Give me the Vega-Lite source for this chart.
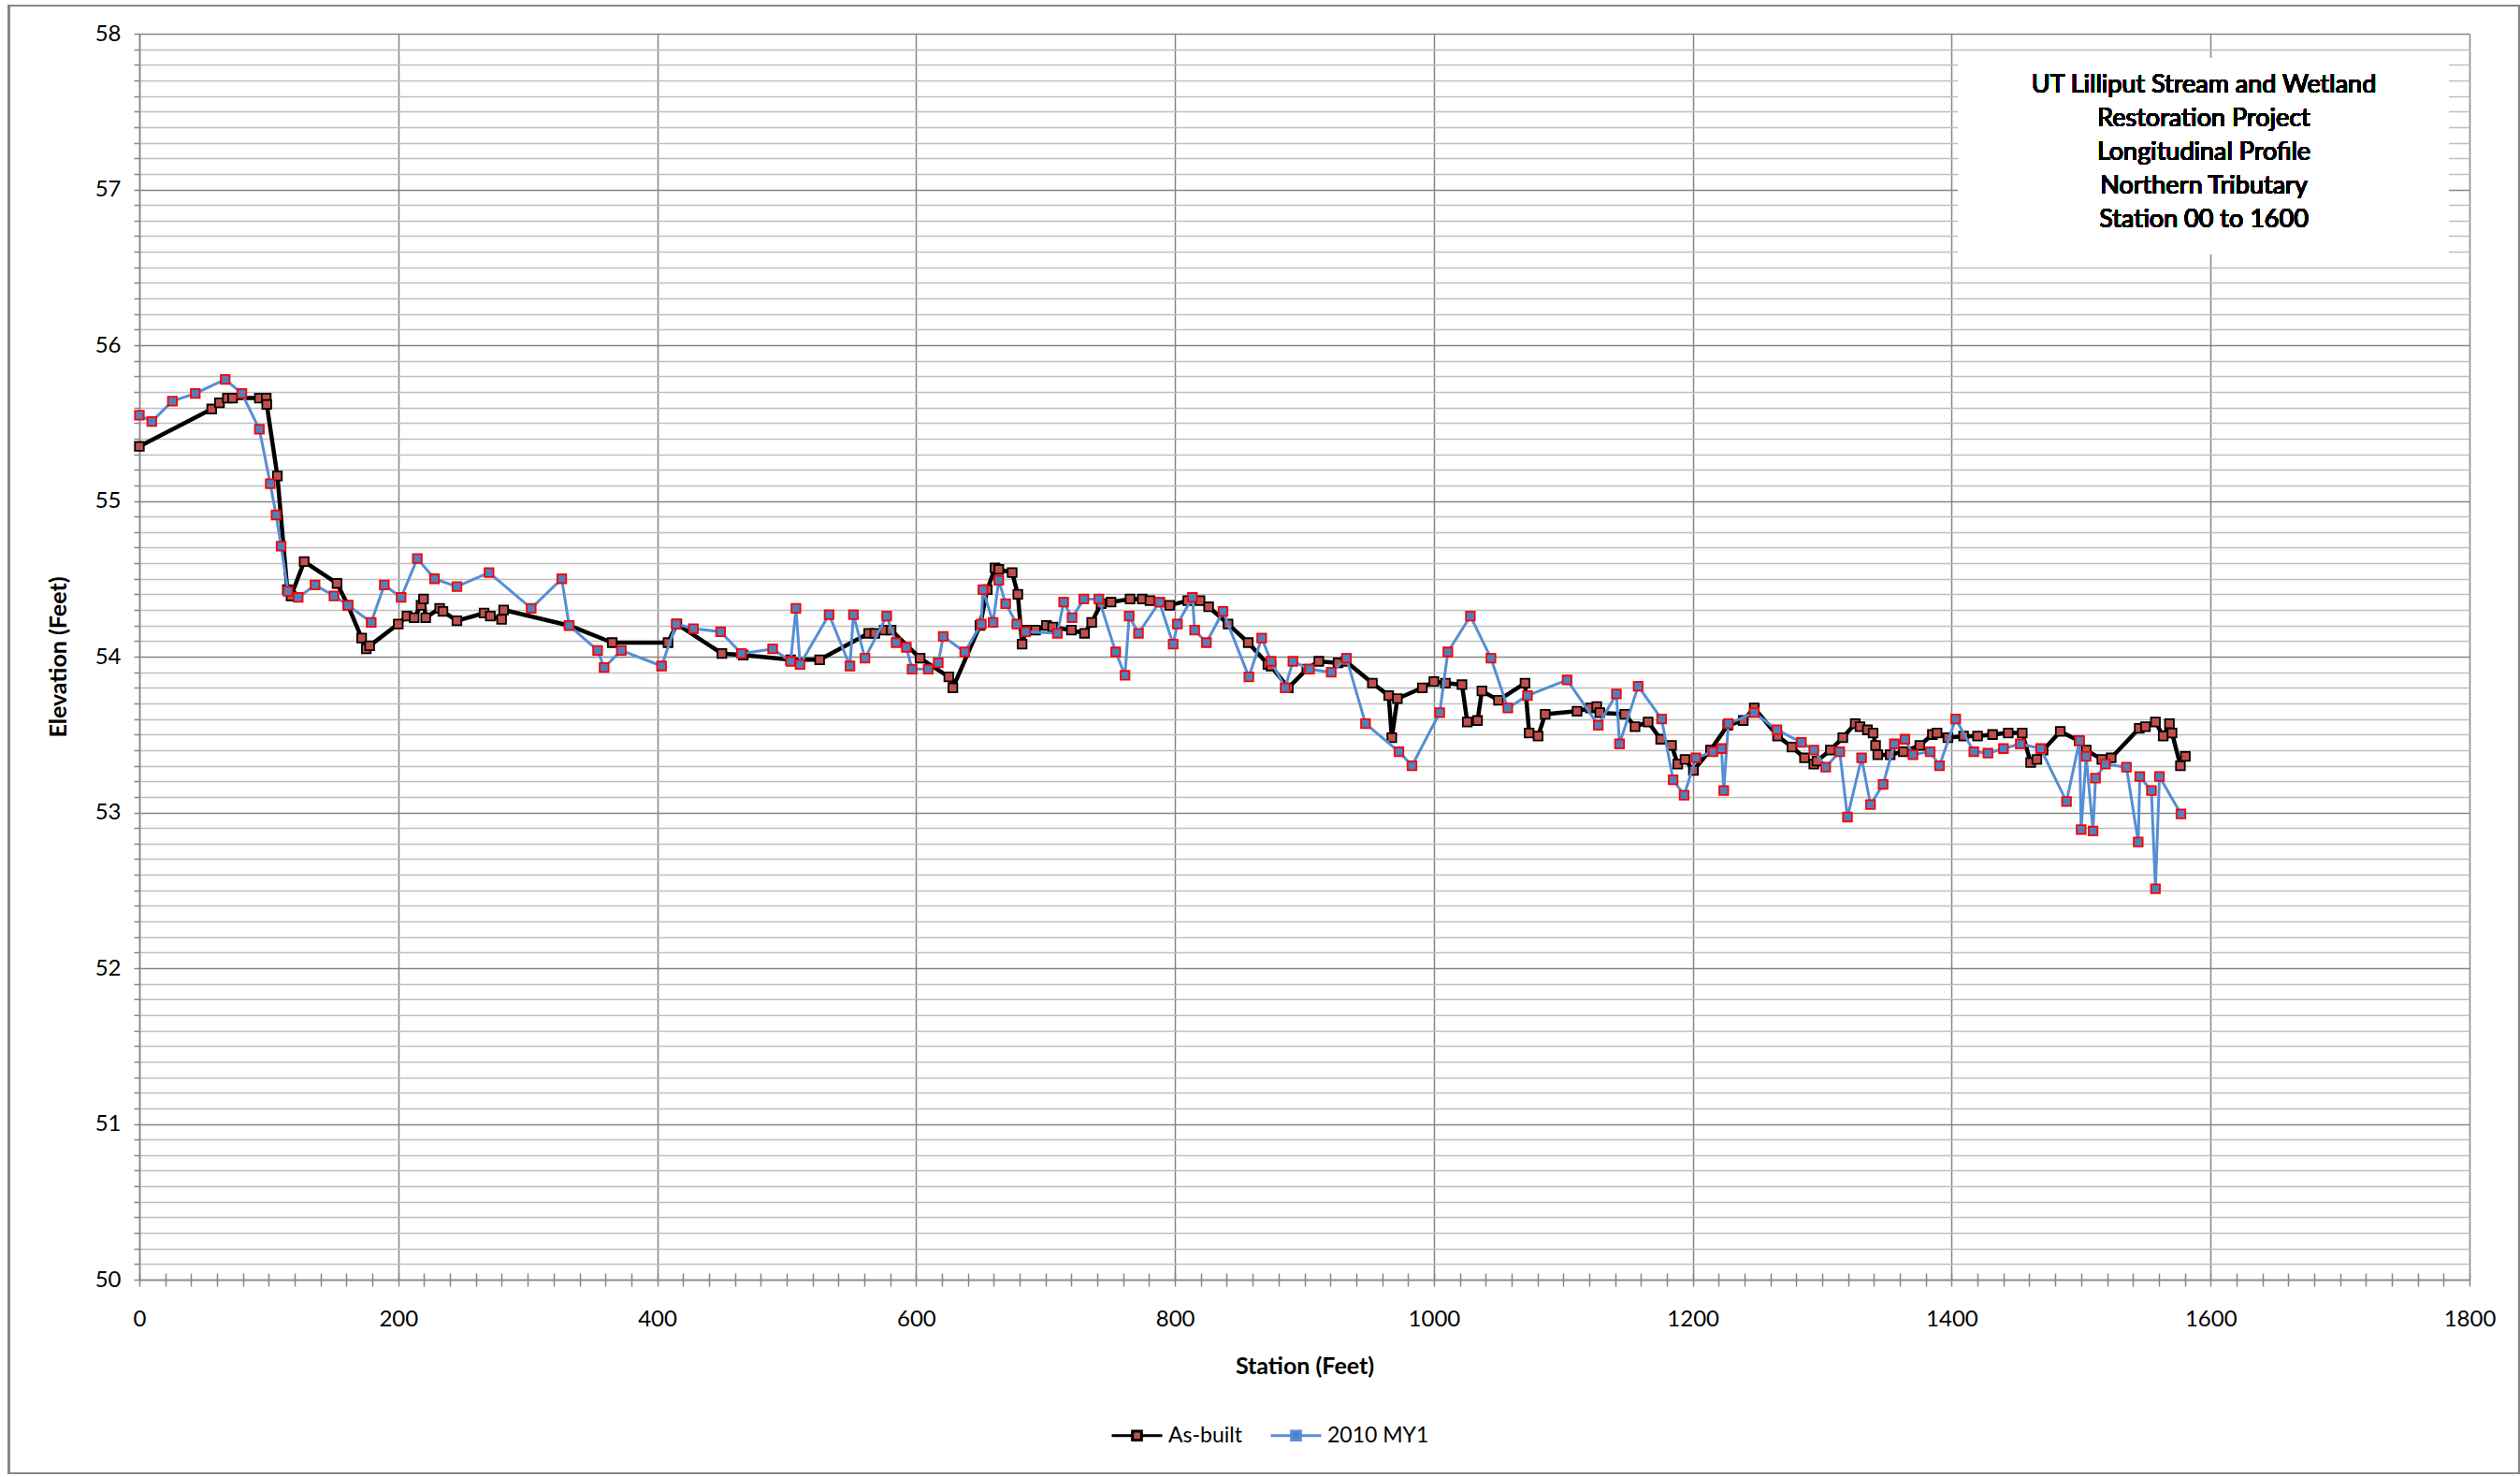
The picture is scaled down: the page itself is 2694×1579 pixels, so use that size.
{
  "$schema": "https://vega.github.io/schema/vega-lite/v6.json",
  "width": 2491,
  "height": 1332,
  "autosize": {"type": "none"},
  "padding": {"left": 149, "top": 36, "right": 54, "bottom": 211},
  "background": "#ffffff",
  "config": {"view": {"stroke": null}, "font": "Lato"},
  "data": {"values": [
    {"station": 0, "elevation": 55.35, "series": "As-built"},
    {"station": 55.9, "elevation": 55.59, "series": "As-built"},
    {"station": 61.9, "elevation": 55.63, "series": "As-built"},
    {"station": 68, "elevation": 55.66, "series": "As-built"},
    {"station": 72, "elevation": 55.66, "series": "As-built"},
    {"station": 92.7, "elevation": 55.66, "series": "As-built"},
    {"station": 98, "elevation": 55.66, "series": "As-built"},
    {"station": 98.4, "elevation": 55.62, "series": "As-built"},
    {"station": 106.6, "elevation": 55.16, "series": "As-built"},
    {"station": 114.3, "elevation": 54.43, "series": "As-built"},
    {"station": 117.2, "elevation": 54.39, "series": "As-built"},
    {"station": 127.3, "elevation": 54.61, "series": "As-built"},
    {"station": 152.7, "elevation": 54.47, "series": "As-built"},
    {"station": 161.1, "elevation": 54.33, "series": "As-built"},
    {"station": 171.7, "elevation": 54.12, "series": "As-built"},
    {"station": 175.3, "elevation": 54.05, "series": "As-built"},
    {"station": 177.9, "elevation": 54.07, "series": "As-built"},
    {"station": 200, "elevation": 54.21, "series": "As-built"},
    {"station": 206.7, "elevation": 54.26, "series": "As-built"},
    {"station": 212.3, "elevation": 54.25, "series": "As-built"},
    {"station": 217.6, "elevation": 54.33, "series": "As-built"},
    {"station": 219.5, "elevation": 54.37, "series": "As-built"},
    {"station": 221.2, "elevation": 54.25, "series": "As-built"},
    {"station": 232, "elevation": 54.31, "series": "As-built"},
    {"station": 234.5, "elevation": 54.29, "series": "As-built"},
    {"station": 245.3, "elevation": 54.23, "series": "As-built"},
    {"station": 266.3, "elevation": 54.28, "series": "As-built"},
    {"station": 271.1, "elevation": 54.26, "series": "As-built"},
    {"station": 279.8, "elevation": 54.24, "series": "As-built"},
    {"station": 281.4, "elevation": 54.3, "series": "As-built"},
    {"station": 332, "elevation": 54.2, "series": "As-built"},
    {"station": 365.3, "elevation": 54.09, "series": "As-built"},
    {"station": 408.4, "elevation": 54.09, "series": "As-built"},
    {"station": 415.2, "elevation": 54.21, "series": "As-built"},
    {"station": 450, "elevation": 54.02, "series": "As-built"},
    {"station": 466.5, "elevation": 54.01, "series": "As-built"},
    {"station": 503.1, "elevation": 53.98, "series": "As-built"},
    {"station": 525.5, "elevation": 53.98, "series": "As-built"},
    {"station": 563.4, "elevation": 54.15, "series": "As-built"},
    {"station": 568.2, "elevation": 54.15, "series": "As-built"},
    {"station": 575.4, "elevation": 54.17, "series": "As-built"},
    {"station": 580.7, "elevation": 54.17, "series": "As-built"},
    {"station": 603.1, "elevation": 53.99, "series": "As-built"},
    {"station": 625.3, "elevation": 53.87, "series": "As-built"},
    {"station": 628.4, "elevation": 53.8, "series": "As-built"},
    {"station": 649.4, "elevation": 54.2, "series": "As-built"},
    {"station": 655, "elevation": 54.43, "series": "As-built"},
    {"station": 661, "elevation": 54.57, "series": "As-built"},
    {"station": 663.9, "elevation": 54.56, "series": "As-built"},
    {"station": 674.2, "elevation": 54.54, "series": "As-built"},
    {"station": 678.6, "elevation": 54.4, "series": "As-built"},
    {"station": 681.9, "elevation": 54.08, "series": "As-built"},
    {"station": 685, "elevation": 54.17, "series": "As-built"},
    {"station": 692.3, "elevation": 54.17, "series": "As-built"},
    {"station": 700.7, "elevation": 54.2, "series": "As-built"},
    {"station": 705.5, "elevation": 54.19, "series": "As-built"},
    {"station": 720, "elevation": 54.17, "series": "As-built"},
    {"station": 730.1, "elevation": 54.15, "series": "As-built"},
    {"station": 735.7, "elevation": 54.22, "series": "As-built"},
    {"station": 742.9, "elevation": 54.34, "series": "As-built"},
    {"station": 750.6, "elevation": 54.35, "series": "As-built"},
    {"station": 765.3, "elevation": 54.37, "series": "As-built"},
    {"station": 774.7, "elevation": 54.37, "series": "As-built"},
    {"station": 780.7, "elevation": 54.36, "series": "As-built"},
    {"station": 788.2, "elevation": 54.35, "series": "As-built"},
    {"station": 795.9, "elevation": 54.33, "series": "As-built"},
    {"station": 809.9, "elevation": 54.36, "series": "As-built"},
    {"station": 819.3, "elevation": 54.36, "series": "As-built"},
    {"station": 826, "elevation": 54.32, "series": "As-built"},
    {"station": 841, "elevation": 54.21, "series": "As-built"},
    {"station": 856.6, "elevation": 54.09, "series": "As-built"},
    {"station": 871.8, "elevation": 53.95, "series": "As-built"},
    {"station": 874.2, "elevation": 53.94, "series": "As-built"},
    {"station": 887.5, "elevation": 53.8, "series": "As-built"},
    {"station": 901.9, "elevation": 53.92, "series": "As-built"},
    {"station": 911.1, "elevation": 53.97, "series": "As-built"},
    {"station": 926, "elevation": 53.96, "series": "As-built"},
    {"station": 932, "elevation": 53.97, "series": "As-built"},
    {"station": 952.5, "elevation": 53.83, "series": "As-built"},
    {"station": 965.1, "elevation": 53.75, "series": "As-built"},
    {"station": 967.5, "elevation": 53.48, "series": "As-built"},
    {"station": 971.8, "elevation": 53.73, "series": "As-built"},
    {"station": 991.1, "elevation": 53.8, "series": "As-built"},
    {"station": 1000, "elevation": 53.84, "series": "As-built"},
    {"station": 1008.9, "elevation": 53.83, "series": "As-built"},
    {"station": 1021.7, "elevation": 53.82, "series": "As-built"},
    {"station": 1025.8, "elevation": 53.58, "series": "As-built"},
    {"station": 1033.7, "elevation": 53.59, "series": "As-built"},
    {"station": 1037.1, "elevation": 53.78, "series": "As-built"},
    {"station": 1049.9, "elevation": 53.72, "series": "As-built"},
    {"station": 1070.4, "elevation": 53.83, "series": "As-built"},
    {"station": 1073.6, "elevation": 53.51, "series": "As-built"},
    {"station": 1080.5, "elevation": 53.49, "series": "As-built"},
    {"station": 1086, "elevation": 53.63, "series": "As-built"},
    {"station": 1110.6, "elevation": 53.65, "series": "As-built"},
    {"station": 1120.9, "elevation": 53.67, "series": "As-built"},
    {"station": 1125.8, "elevation": 53.68, "series": "As-built"},
    {"station": 1128.2, "elevation": 53.64, "series": "As-built"},
    {"station": 1147.5, "elevation": 53.63, "series": "As-built"},
    {"station": 1155.4, "elevation": 53.55, "series": "As-built"},
    {"station": 1165.5, "elevation": 53.58, "series": "As-built"},
    {"station": 1175.2, "elevation": 53.47, "series": "As-built"},
    {"station": 1183.6, "elevation": 53.43, "series": "As-built"},
    {"station": 1188.4, "elevation": 53.31, "series": "As-built"},
    {"station": 1194, "elevation": 53.34, "series": "As-built"},
    {"station": 1200.5, "elevation": 53.27, "series": "As-built"},
    {"station": 1213.7, "elevation": 53.4, "series": "As-built"},
    {"station": 1227, "elevation": 53.56, "series": "As-built"},
    {"station": 1239, "elevation": 53.59, "series": "As-built"},
    {"station": 1247.5, "elevation": 53.67, "series": "As-built"},
    {"station": 1265.5, "elevation": 53.49, "series": "As-built"},
    {"station": 1276.6, "elevation": 53.42, "series": "As-built"},
    {"station": 1286.3, "elevation": 53.35, "series": "As-built"},
    {"station": 1293.5, "elevation": 53.31, "series": "As-built"},
    {"station": 1295.9, "elevation": 53.33, "series": "As-built"},
    {"station": 1306.3, "elevation": 53.4, "series": "As-built"},
    {"station": 1315.9, "elevation": 53.48, "series": "As-built"},
    {"station": 1325.5, "elevation": 53.57, "series": "As-built"},
    {"station": 1329.2, "elevation": 53.55, "series": "As-built"},
    {"station": 1334.9, "elevation": 53.53, "series": "As-built"},
    {"station": 1339.3, "elevation": 53.51, "series": "As-built"},
    {"station": 1341.2, "elevation": 53.43, "series": "As-built"},
    {"station": 1342.9, "elevation": 53.37, "series": "As-built"},
    {"station": 1352.5, "elevation": 53.37, "series": "As-built"},
    {"station": 1362.7, "elevation": 53.39, "series": "As-built"},
    {"station": 1375.4, "elevation": 53.43, "series": "As-built"},
    {"station": 1385.1, "elevation": 53.5, "series": "As-built"},
    {"station": 1388.7, "elevation": 53.51, "series": "As-built"},
    {"station": 1397.1, "elevation": 53.48, "series": "As-built"},
    {"station": 1409.2, "elevation": 53.49, "series": "As-built"},
    {"station": 1420, "elevation": 53.49, "series": "As-built"},
    {"station": 1431.6, "elevation": 53.5, "series": "As-built"},
    {"station": 1443.7, "elevation": 53.51, "series": "As-built"},
    {"station": 1454.5, "elevation": 53.51, "series": "As-built"},
    {"station": 1461, "elevation": 53.32, "series": "As-built"},
    {"station": 1465.8, "elevation": 53.34, "series": "As-built"},
    {"station": 1470.6, "elevation": 53.4, "series": "As-built"},
    {"station": 1483.9, "elevation": 53.52, "series": "As-built"},
    {"station": 1498.4, "elevation": 53.46, "series": "As-built"},
    {"station": 1503.9, "elevation": 53.4, "series": "As-built"},
    {"station": 1516, "elevation": 53.34, "series": "As-built"},
    {"station": 1523.2, "elevation": 53.35, "series": "As-built"},
    {"station": 1544.9, "elevation": 53.54, "series": "As-built"},
    {"station": 1549.7, "elevation": 53.55, "series": "As-built"},
    {"station": 1557.4, "elevation": 53.58, "series": "As-built"},
    {"station": 1563.4, "elevation": 53.49, "series": "As-built"},
    {"station": 1568.2, "elevation": 53.57, "series": "As-built"},
    {"station": 1570.2, "elevation": 53.51, "series": "As-built"},
    {"station": 1576.7, "elevation": 53.3, "series": "As-built"},
    {"station": 1580.5, "elevation": 53.36, "series": "As-built"},
    {"station": 0, "elevation": 55.55, "series": "2010 MY1"},
    {"station": 9.6, "elevation": 55.51, "series": "2010 MY1"},
    {"station": 25.5, "elevation": 55.64, "series": "2010 MY1"},
    {"station": 43.2, "elevation": 55.69, "series": "2010 MY1"},
    {"station": 66.3, "elevation": 55.78, "series": "2010 MY1"},
    {"station": 79.2, "elevation": 55.69, "series": "2010 MY1"},
    {"station": 92.7, "elevation": 55.46, "series": "2010 MY1"},
    {"station": 101.1, "elevation": 55.11, "series": "2010 MY1"},
    {"station": 105.6, "elevation": 54.91, "series": "2010 MY1"},
    {"station": 109.5, "elevation": 54.71, "series": "2010 MY1"},
    {"station": 114.8, "elevation": 54.42, "series": "2010 MY1"},
    {"station": 122.7, "elevation": 54.38, "series": "2010 MY1"},
    {"station": 135.7, "elevation": 54.46, "series": "2010 MY1"},
    {"station": 150.3, "elevation": 54.39, "series": "2010 MY1"},
    {"station": 161.1, "elevation": 54.33, "series": "2010 MY1"},
    {"station": 179.1, "elevation": 54.22, "series": "2010 MY1"},
    {"station": 189.2, "elevation": 54.46, "series": "2010 MY1"},
    {"station": 202.2, "elevation": 54.38, "series": "2010 MY1"},
    {"station": 214.7, "elevation": 54.63, "series": "2010 MY1"},
    {"station": 228, "elevation": 54.5, "series": "2010 MY1"},
    {"station": 245.3, "elevation": 54.45, "series": "2010 MY1"},
    {"station": 270.1, "elevation": 54.54, "series": "2010 MY1"},
    {"station": 302.7, "elevation": 54.31, "series": "2010 MY1"},
    {"station": 326.3, "elevation": 54.5, "series": "2010 MY1"},
    {"station": 332, "elevation": 54.2, "series": "2010 MY1"},
    {"station": 354, "elevation": 54.04, "series": "2010 MY1"},
    {"station": 359, "elevation": 53.93, "series": "2010 MY1"},
    {"station": 372.3, "elevation": 54.04, "series": "2010 MY1"},
    {"station": 403.4, "elevation": 53.94, "series": "2010 MY1"},
    {"station": 414.7, "elevation": 54.21, "series": "2010 MY1"},
    {"station": 428, "elevation": 54.18, "series": "2010 MY1"},
    {"station": 449, "elevation": 54.16, "series": "2010 MY1"},
    {"station": 465.1, "elevation": 54.02, "series": "2010 MY1"},
    {"station": 489.2, "elevation": 54.05, "series": "2010 MY1"},
    {"station": 503.1, "elevation": 53.97, "series": "2010 MY1"},
    {"station": 507.2, "elevation": 54.31, "series": "2010 MY1"},
    {"station": 510.4, "elevation": 53.95, "series": "2010 MY1"},
    {"station": 532.8, "elevation": 54.27, "series": "2010 MY1"},
    {"station": 548.9, "elevation": 53.94, "series": "2010 MY1"},
    {"station": 551.6, "elevation": 54.27, "series": "2010 MY1"},
    {"station": 560.5, "elevation": 53.99, "series": "2010 MY1"},
    {"station": 577.3, "elevation": 54.26, "series": "2010 MY1"},
    {"station": 584.6, "elevation": 54.09, "series": "2010 MY1"},
    {"station": 592.5, "elevation": 54.06, "series": "2010 MY1"},
    {"station": 596.9, "elevation": 53.92, "series": "2010 MY1"},
    {"station": 609.4, "elevation": 53.92, "series": "2010 MY1"},
    {"station": 617.1, "elevation": 53.96, "series": "2010 MY1"},
    {"station": 621, "elevation": 54.13, "series": "2010 MY1"},
    {"station": 637.6, "elevation": 54.03, "series": "2010 MY1"},
    {"station": 650.4, "elevation": 54.21, "series": "2010 MY1"},
    {"station": 651.6, "elevation": 54.43, "series": "2010 MY1"},
    {"station": 659.5, "elevation": 54.22, "series": "2010 MY1"},
    {"station": 663.9, "elevation": 54.49, "series": "2010 MY1"},
    {"station": 669.2, "elevation": 54.34, "series": "2010 MY1"},
    {"station": 677.8, "elevation": 54.21, "series": "2010 MY1"},
    {"station": 684.6, "elevation": 54.16, "series": "2010 MY1"},
    {"station": 709.2, "elevation": 54.15, "series": "2010 MY1"},
    {"station": 714, "elevation": 54.35, "series": "2010 MY1"},
    {"station": 720.5, "elevation": 54.25, "series": "2010 MY1"},
    {"station": 729.6, "elevation": 54.37, "series": "2010 MY1"},
    {"station": 741.2, "elevation": 54.37, "series": "2010 MY1"},
    {"station": 754.2, "elevation": 54.03, "series": "2010 MY1"},
    {"station": 761.4, "elevation": 53.88, "series": "2010 MY1"},
    {"station": 764.6, "elevation": 54.26, "series": "2010 MY1"},
    {"station": 771.8, "elevation": 54.15, "series": "2010 MY1"},
    {"station": 788, "elevation": 54.35, "series": "2010 MY1"},
    {"station": 798.6, "elevation": 54.08, "series": "2010 MY1"},
    {"station": 801.9, "elevation": 54.21, "series": "2010 MY1"},
    {"station": 813.5, "elevation": 54.38, "series": "2010 MY1"},
    {"station": 815.2, "elevation": 54.17, "series": "2010 MY1"},
    {"station": 824.3, "elevation": 54.09, "series": "2010 MY1"},
    {"station": 837.1, "elevation": 54.29, "series": "2010 MY1"},
    {"station": 857.1, "elevation": 53.87, "series": "2010 MY1"},
    {"station": 867, "elevation": 54.12, "series": "2010 MY1"},
    {"station": 874.2, "elevation": 53.97, "series": "2010 MY1"},
    {"station": 885.1, "elevation": 53.8, "series": "2010 MY1"},
    {"station": 891.1, "elevation": 53.97, "series": "2010 MY1"},
    {"station": 903.9, "elevation": 53.92, "series": "2010 MY1"},
    {"station": 920.7, "elevation": 53.9, "series": "2010 MY1"},
    {"station": 932.5, "elevation": 53.99, "series": "2010 MY1"},
    {"station": 947.2, "elevation": 53.57, "series": "2010 MY1"},
    {"station": 973, "elevation": 53.39, "series": "2010 MY1"},
    {"station": 983.1, "elevation": 53.3, "series": "2010 MY1"},
    {"station": 1004.5, "elevation": 53.64, "series": "2010 MY1"},
    {"station": 1010.8, "elevation": 54.03, "series": "2010 MY1"},
    {"station": 1028.2, "elevation": 54.26, "series": "2010 MY1"},
    {"station": 1044.1, "elevation": 53.99, "series": "2010 MY1"},
    {"station": 1057.1, "elevation": 53.67, "series": "2010 MY1"},
    {"station": 1072.3, "elevation": 53.75, "series": "2010 MY1"},
    {"station": 1102.9, "elevation": 53.85, "series": "2010 MY1"},
    {"station": 1127, "elevation": 53.56, "series": "2010 MY1"},
    {"station": 1141, "elevation": 53.76, "series": "2010 MY1"},
    {"station": 1143.4, "elevation": 53.44, "series": "2010 MY1"},
    {"station": 1157.8, "elevation": 53.81, "series": "2010 MY1"},
    {"station": 1175.9, "elevation": 53.6, "series": "2010 MY1"},
    {"station": 1184.8, "elevation": 53.21, "series": "2010 MY1"},
    {"station": 1193.3, "elevation": 53.11, "series": "2010 MY1"},
    {"station": 1202.4, "elevation": 53.35, "series": "2010 MY1"},
    {"station": 1215.7, "elevation": 53.39, "series": "2010 MY1"},
    {"station": 1222.2, "elevation": 53.41, "series": "2010 MY1"},
    {"station": 1223.9, "elevation": 53.14, "series": "2010 MY1"},
    {"station": 1227.5, "elevation": 53.57, "series": "2010 MY1"},
    {"station": 1247.5, "elevation": 53.64, "series": "2010 MY1"},
    {"station": 1265, "elevation": 53.53, "series": "2010 MY1"},
    {"station": 1283.9, "elevation": 53.45, "series": "2010 MY1"},
    {"station": 1293.5, "elevation": 53.4, "series": "2010 MY1"},
    {"station": 1302.7, "elevation": 53.29, "series": "2010 MY1"},
    {"station": 1313.5, "elevation": 53.39, "series": "2010 MY1"},
    {"station": 1319.5, "elevation": 52.97, "series": "2010 MY1"},
    {"station": 1330.4, "elevation": 53.35, "series": "2010 MY1"},
    {"station": 1337.3, "elevation": 53.05, "series": "2010 MY1"},
    {"station": 1347, "elevation": 53.18, "series": "2010 MY1"},
    {"station": 1355.7, "elevation": 53.44, "series": "2010 MY1"},
    {"station": 1363.9, "elevation": 53.47, "series": "2010 MY1"},
    {"station": 1370.1, "elevation": 53.37, "series": "2010 MY1"},
    {"station": 1383.4, "elevation": 53.39, "series": "2010 MY1"},
    {"station": 1390.6, "elevation": 53.3, "series": "2010 MY1"},
    {"station": 1403.1, "elevation": 53.6, "series": "2010 MY1"},
    {"station": 1417.1, "elevation": 53.39, "series": "2010 MY1"},
    {"station": 1428, "elevation": 53.38, "series": "2010 MY1"},
    {"station": 1440, "elevation": 53.41, "series": "2010 MY1"},
    {"station": 1453, "elevation": 53.44, "series": "2010 MY1"},
    {"station": 1468.7, "elevation": 53.41, "series": "2010 MY1"},
    {"station": 1488.7, "elevation": 53.07, "series": "2010 MY1"},
    {"station": 1498.8, "elevation": 53.46, "series": "2010 MY1"},
    {"station": 1500, "elevation": 52.89, "series": "2010 MY1"},
    {"station": 1503.9, "elevation": 53.36, "series": "2010 MY1"},
    {"station": 1509.2, "elevation": 52.88, "series": "2010 MY1"},
    {"station": 1511.1, "elevation": 53.22, "series": "2010 MY1"},
    {"station": 1518.8, "elevation": 53.31, "series": "2010 MY1"},
    {"station": 1535, "elevation": 53.29, "series": "2010 MY1"},
    {"station": 1544.1, "elevation": 52.81, "series": "2010 MY1"},
    {"station": 1545.3, "elevation": 53.23, "series": "2010 MY1"},
    {"station": 1554.3, "elevation": 53.14, "series": "2010 MY1"},
    {"station": 1557.4, "elevation": 52.51, "series": "2010 MY1"},
    {"station": 1560.5, "elevation": 53.23, "series": "2010 MY1"},
    {"station": 1577.1, "elevation": 52.99, "series": "2010 MY1"}
  ]},
  "resolve": {"axis": {"x": "independent", "y": "independent"}},
  "layer": [
    {
      "mark": {"type": "rect", "fill": null, "stroke": "#868686", "strokeWidth": 2, "clip": false},
      "encoding": {
        "x": {"datum": -100.5, "type": "quantitative", "scale": {"domain": [0, 1800], "nice": false, "zero": false}, "axis": null},
        "x2": {"datum": 1839},
        "y": {"datum": 58.18, "type": "quantitative", "scale": {"domain": [50, 58], "nice": false, "zero": false}, "axis": null},
        "y2": {"datum": 48.757}
      }
    },
    {
      "mark": {"type": "rect", "fill": "#ffffff", "stroke": null},
      "encoding": {
        "x": {"datum": 1405.3, "type": "quantitative", "scale": {"domain": [0, 1800], "nice": false, "zero": false}, "axis": null},
        "x2": {"datum": 1784.1},
        "y": {"datum": 57.844, "type": "quantitative", "scale": {"domain": [50, 58], "nice": false, "zero": false}, "axis": null},
        "y2": {"datum": 56.583}
      }
    },
    {
      "mark": {"type": "text", "text": ["UT Lilliput Stream and Wetland", "Restoration Project", "Longitudinal Profile", "Northern Tributary", "Station 00 to 1600"], "font": "Lato", "fontSize": 27, "fontWeight": "normal", "lineHeight": 36, "align": "center", "baseline": "alphabetic", "color": "#000000"},
      "encoding": {
        "x": {"datum": 1594.8, "type": "quantitative", "scale": {"domain": [0, 1800], "nice": false, "zero": false}, "axis": null},
        "y": {"datum": 57.622, "type": "quantitative", "scale": {"domain": [50, 58], "nice": false, "zero": false}, "axis": null}
      }
    },
    {
      "transform": [{"filter": "datum.series === 'As-built'"}],
      "mark": {"type": "line", "strokeWidth": 4.5, "strokeJoin": "round", "strokeCap": "round"},
      "encoding": {
        "x": {"field": "station", "type": "quantitative", "scale": {"domain": [0, 1800], "nice": false, "zero": false},
          "axis": {
            "title": "Station (Feet)", "orient": "bottom",
            "values": [0,20,40,60,80,100,120,140,160,180,200,220,240,260,280,300,320,340,360,380,400,420,440,460,480,500,520,540,560,580,600,620,640,660,680,700,720,740,760,780,800,820,840,860,880,900,920,940,960,980,1000,1020,1040,1060,1080,1100,1120,1140,1160,1180,1200,1220,1240,1260,1280,1300,1320,1340,1360,1380,1400,1420,1440,1460,1480,1500,1520,1540,1560,1580,1600,1620,1640,1660,1680,1700,1720,1740,1760,1780,1800],
            "labelExpr": "datum.value % 200 === 0 ? format(datum.value, 'd') : ''",
            "grid": true,
            "gridOpacity": {"condition": {"test": "datum.value % 200 === 0", "value": 1}, "value": 0},
            "gridColor": "#868686", "gridWidth": 1.5,
            "tickSize": 7, "tickColor": "#868686", "tickWidth": 1.5,
            "domainColor": "#868686", "domainWidth": 1.5,
            "labelFont": "Lato", "labelFontSize": 24, "labelColor": "#000000", "labelPadding": 23,
            "labelOverlap": false, "labelFlush": false, "labelBound": false,
            "titleFont": "Lato", "titleFontSize": 25, "titleFontWeight": "bold", "titleColor": "#000000", "titlePadding": 26
          }
        },
        "y": {"field": "elevation", "type": "quantitative", "scale": {"domain": [50, 58], "nice": false, "zero": false},
          "axis": {
            "title": "Elevation (Feet)", "orient": "left",
            "values": [50,50.1,50.2,50.3,50.4,50.5,50.6,50.7,50.8,50.9,51,51.1,51.2,51.3,51.4,51.5,51.6,51.7,51.8,51.9,52,52.1,52.2,52.3,52.4,52.5,52.6,52.7,52.8,52.9,53,53.1,53.2,53.3,53.4,53.5,53.6,53.7,53.8,53.9,54,54.1,54.2,54.3,54.4,54.5,54.6,54.7,54.8,54.9,55,55.1,55.2,55.3,55.4,55.5,55.6,55.7,55.8,55.9,56,56.1,56.2,56.3,56.4,56.5,56.6,56.7,56.8,56.9,57,57.1,57.2,57.3,57.4,57.5,57.6,57.7,57.8,57.9,58],
            "labelExpr": "datum.value % 1 === 0 ? format(datum.value, 'd') : ''",
            "grid": true,
            "gridColor": {"condition": {"test": "datum.value % 1 === 0", "value": "#868686"}, "value": "#BFBFBF"},
            "gridWidth": 1.5,
            "tickSize": 6, "tickColor": "#868686", "tickWidth": 1.5,
            "domainColor": "#868686", "domainWidth": 1.5,
            "labelFont": "Lato", "labelFontSize": 24, "labelColor": "#000000", "labelPadding": 14,
            "labelOverlap": false, "labelFlush": false, "labelBound": false,
            "titleFont": "Lato", "titleFontSize": 25, "titleFontWeight": "bold", "titleColor": "#000000", "titlePadding": 26
          }
        },
        "stroke": {"field": "series", "type": "nominal",
          "scale": {"domain": ["As-built", "2010 MY1"], "range": ["#000000", "#558ED5"]},
          "legend": {
            "title": null, "orient": "none", "legendX": 1038, "legendY": 1470, "direction": "horizontal",
            "symbolType": "M-1,0H-0.18M0.18,0H1M-0.18,-0.18H0.18V0.18H-0.18Z",
            "symbolSize": 2916, "symbolStrokeWidth": 3,
            "labelFont": "Lato", "labelFontSize": 23, "labelColor": "#000000", "labelOffset": 5,
            "columnPadding": 24, "padding": 0,
            "encode": {"symbols": {"update": {"fill": {"signal": "datum.value === 'As-built' ? '#C0504D' : '#4F81BD'"}, "fillOpacity": {"value": 1}}}}
          }
        }
      }
    },
    {
      "transform": [{"filter": "datum.series === 'As-built'"}],
      "mark": {"type": "square", "size": 90, "strokeWidth": 1.8, "opacity": 1, "fill": "#C0504D", "stroke": "#000000", "filled": true},
      "encoding": {
        "x": {"field": "station", "type": "quantitative", "scale": {"domain": [0, 1800], "nice": false, "zero": false}, "axis": null},
        "y": {"field": "elevation", "type": "quantitative", "scale": {"domain": [50, 58], "nice": false, "zero": false}, "axis": null}
      }
    },
    {
      "transform": [{"filter": "datum.series === '2010 MY1'"}],
      "mark": {"type": "line", "strokeWidth": 3, "strokeJoin": "round", "strokeCap": "round"},
      "encoding": {
        "x": {"field": "station", "type": "quantitative", "scale": {"domain": [0, 1800], "nice": false, "zero": false}, "axis": null},
        "y": {"field": "elevation", "type": "quantitative", "scale": {"domain": [50, 58], "nice": false, "zero": false}, "axis": null},
        "stroke": {"field": "series", "type": "nominal",
          "scale": {"domain": ["As-built", "2010 MY1"], "range": ["#000000", "#558ED5"]},
          "legend": {
            "title": null, "orient": "none", "legendX": 1038, "legendY": 1470, "direction": "horizontal",
            "symbolType": "M-1,0H-0.18M0.18,0H1M-0.18,-0.18H0.18V0.18H-0.18Z",
            "symbolSize": 2916, "symbolStrokeWidth": 3,
            "labelFont": "Lato", "labelFontSize": 23, "labelColor": "#000000", "labelOffset": 5,
            "columnPadding": 24, "padding": 0,
            "encode": {"symbols": {"update": {"fill": {"signal": "datum.value === 'As-built' ? '#C0504D' : '#4F81BD'"}, "fillOpacity": {"value": 1}}}}
          }
        }
      }
    },
    {
      "transform": [{"filter": "datum.series === '2010 MY1'"}],
      "mark": {"type": "square", "size": 90, "strokeWidth": 1.8, "opacity": 1, "fill": "#4F81BD", "stroke": "#FF0000", "filled": true},
      "encoding": {
        "x": {"field": "station", "type": "quantitative", "scale": {"domain": [0, 1800], "nice": false, "zero": false},
          "axis": {
            "orient": "top", "offset": -1332, "title": null,
            "values": [0,20,40,60,80,100,120,140,160,180,200,220,240,260,280,300,320,340,360,380,400,420,440,460,480,500,520,540,560,580,600,620,640,660,680,700,720,740,760,780,800,820,840,860,880,900,920,940,960,980,1000,1020,1040,1060,1080,1100,1120,1140,1160,1180,1200,1220,1240,1260,1280,1300,1320,1340,1360,1380,1400,1420,1440,1460,1480,1500,1520,1540,1560,1580,1600,1620,1640,1660,1680,1700,1720,1740,1760,1780,1800],
            "labels": false, "domain": false, "grid": false,
            "tickSize": 7, "tickColor": "#868686", "tickWidth": 1.5
          }
        },
        "y": {"field": "elevation", "type": "quantitative", "scale": {"domain": [50, 58], "nice": false, "zero": false}, "axis": null}
      }
    }
  ]
}
